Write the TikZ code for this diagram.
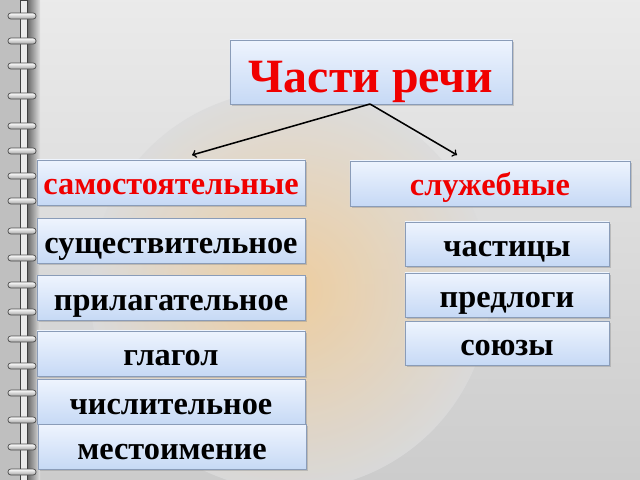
\documentclass[tikz,border=0pt]{standalone}
\usepackage{fontspec}
\setmainfont{Liberation Serif}
\usetikzlibrary{arrows,shadows}
\definecolor{boxtop}{HTML}{EEF4FE}
\definecolor{boxbottom}{HTML}{C6D9F5}
\definecolor{boxline}{HTML}{8A9CB8}
\definecolor{titlered}{HTML}{F00000}
\tikzset{partbox/.style={rectangle,draw=boxline,line width=0.6pt,top color=boxtop,bottom color=boxbottom,
    inner sep=0pt,font=\bfseries\fontsize{23}{24}\selectfont,text height=17.5pt,text depth=0pt,
    drop shadow={shadow xshift=1.2pt,shadow yshift=-1.2pt,opacity=0.35}}}
\tikzset{leftbox/.style={partbox,minimum width=6.7cm,minimum height=1.125cm}}
\tikzset{rightbox/.style={partbox,minimum width=5.1cm,minimum height=1.1cm}}
\tikzset{ring/.style={draw=black!70,line width=0.5pt,top color=white,bottom color=black!35,rounded corners=2pt}}
\tikzset{branch/.style={->,>=to,line width=1.1pt}}

\begin{document}
\begin{tikzpicture}[x=0.025cm,y=-0.025cm]
        \useasboundingbox (0,0) rectangle (640,480);
        % paper and glow
        \shade[top color=black!8,bottom color=black!20] (0,0) rectangle (640,480);
        \shade[inner color={rgb,255:red,242;green,204;blue,150},outer color=black!14,opacity=0.85] (290,290) circle (200);
        % binding
        \fill[black!25] (0,0) rectangle (20,480);
        \shade[left color=black!60,right color=black!12] (27,0) rectangle (40,480);
        \draw[black!75,line width=0.6pt,fill=black!8] (20,0) rectangle (27,480);
        \foreach \y in {16,41,66,96,126,151,176,201,231,258,285,312,339,366,393,420,447,472}
            \path[ring] (8,\y-3) rectangle (36,\y+3);

        \node[partbox,minimum width=7.05cm,minimum height=1.6cm,text=titlered,font=\bfseries\fontsize{34}{36}\selectfont,text height=28.5pt] (title) at (371,72) {Части речи};

        \node[leftbox,text=titlered] (samost) at (171,182.5) {самостоятельные};
        \node[partbox,minimum width=7cm,minimum height=1.125cm,text=titlered] (sluzh) at (490,183.5) {служебные};

        \node[leftbox] (sushch) at (171,241) {существительное};
        \node[leftbox] (prilag) at (171,298) {прилагательное};
        \node[leftbox] (glagol) at (171,353.5) {глагол};
        \node[leftbox] (chisl) at (171,402) {числительное};
        \node[leftbox] (mestoim) at (172,447) {местоимение};

        \node[rightbox] (chast) at (507,244) {частицы};
        \node[rightbox] (predl) at (507,295) {предлоги};
        \node[rightbox] (soyuz) at (507,343.5) {союзы};

        \coordinate (split) at (370,104);
        \coordinate (toleft) at (192,155);
        \coordinate (toright) at (457,155);
        \draw[branch] (split) -- (toleft);
        \draw[branch] (split) -- (toright);
    \end{tikzpicture}
\end{document}
